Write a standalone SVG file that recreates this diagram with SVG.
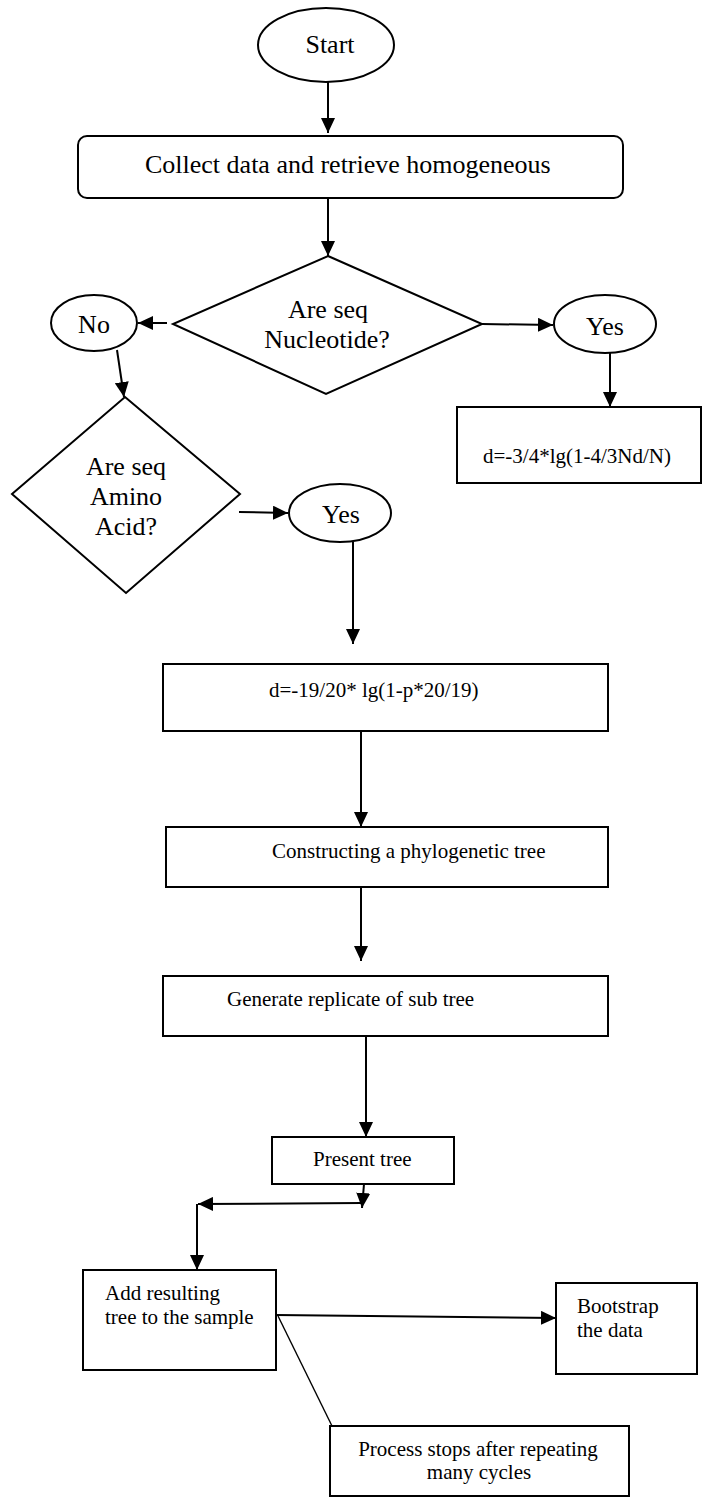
<svg xmlns="http://www.w3.org/2000/svg" width="707" height="1502" viewBox="0 0 707 1502">
  <style>
    .shape { fill: #ffffff; stroke: #000000; stroke-width: 2; }
    .t26 { font-family: "Liberation Serif", "Times New Roman", serif; font-size: 26px; fill: #000000; }
    .t21 { font-family: "Liberation Serif", "Times New Roman", serif; font-size: 21px; fill: #000000; }
    .mid { text-anchor: middle; }
    .conn { stroke: #000000; stroke-width: 2; fill: none; }
    .arrow { marker-end: url(#ah); }
    .thin { stroke-width: 1.4; }
  </style>
  <defs>
    <marker id="ah" markerUnits="userSpaceOnUse" markerWidth="15" markerHeight="14" viewBox="0 0 15 14" refX="15" refY="7" orient="auto">
      <path d="M0,0 L15,7 L0,14 Z" fill="#000000"/>
    </marker>
  </defs>
  <rect x="0" y="0" width="707" height="1502" fill="#ffffff"/>

  <g id="connectors">
    <line class="conn arrow" x1="328" y1="82" x2="328" y2="133"/>
    <line class="conn arrow" x1="328" y1="198" x2="328" y2="256"/>
    <line class="conn arrow" x1="167" y1="323" x2="138" y2="323"/>
    <line class="conn arrow" x1="482" y1="324" x2="553" y2="325"/>
    <line class="conn arrow" x1="610" y1="353" x2="610" y2="407"/>
    <line class="conn arrow" x1="117" y1="350" x2="124" y2="397"/>
    <line class="conn arrow" x1="239" y1="512" x2="288" y2="513"/>
    <line class="conn arrow" x1="353" y1="542" x2="353" y2="644"/>
    <line class="conn arrow" x1="361" y1="731" x2="361" y2="827"/>
    <line class="conn arrow" x1="361" y1="887" x2="361" y2="961"/>
    <line class="conn arrow" x1="366" y1="1036" x2="366" y2="1137"/>
    <line class="conn arrow" x1="364" y1="1184" x2="362" y2="1208"/>
    <line class="conn arrow" x1="362" y1="1203" x2="198" y2="1204"/>
    <line class="conn arrow" x1="197" y1="1204" x2="197" y2="1270"/>
    <line class="conn arrow" x1="276" y1="1315" x2="556" y2="1318"/>
    <line class="conn thin" x1="278" y1="1316" x2="332" y2="1426"/>
  </g>

  <g id="start">
    <ellipse class="shape" cx="326" cy="45" rx="68" ry="37"/>
    <text class="t26 mid" x="330" y="53">Start</text>
  </g>

  <g id="collect">
    <rect class="shape" x="78" y="136" width="545" height="62" rx="9" ry="9"/>
    <text class="t26" x="145" y="173">Collect data and retrieve homogeneous</text>
  </g>

  <g id="decision-nucleotide">
    <polygon class="shape" points="328,256 482,324 326,394 173,324"/>
    <text class="t26 mid" x="328" y="318">Are seq</text>
    <text class="t26 mid" x="327" y="348">Nucleotide?</text>
  </g>

  <g id="no">
    <ellipse class="shape" cx="94" cy="323" rx="43" ry="28"/>
    <text class="t26 mid" x="94" y="333">No</text>
  </g>

  <g id="yes-nucleotide">
    <ellipse class="shape" cx="605" cy="324" rx="51" ry="29"/>
    <text class="t26 mid" x="605" y="335">Yes</text>
  </g>

  <g id="formula-nucleotide">
    <rect class="shape" x="457" y="407" width="244" height="76"/>
    <text class="t21" x="483" y="463">d=-3/4*lg(1-4/3Nd/N)</text>
  </g>

  <g id="decision-amino">
    <polygon class="shape" points="125,397 240,494 126,593 12,494"/>
    <text class="t26 mid" x="126" y="475">Are seq</text>
    <text class="t26 mid" x="126" y="505">Amino</text>
    <text class="t26 mid" x="126" y="535">Acid?</text>
  </g>

  <g id="yes-amino">
    <ellipse class="shape" cx="340" cy="513" rx="51" ry="29"/>
    <text class="t26 mid" x="341" y="523">Yes</text>
  </g>

  <g id="formula-amino">
    <rect class="shape" x="163" y="664" width="445" height="67"/>
    <text class="t21" x="269" y="697">d=-19/20* lg(1-p*20/19)</text>
  </g>

  <g id="construct">
    <rect class="shape" x="166" y="827" width="442" height="60"/>
    <text class="t21" x="272" y="858">Constructing a phylogenetic tree</text>
  </g>

  <g id="generate">
    <rect class="shape" x="163" y="976" width="445" height="60"/>
    <text class="t21" x="227" y="1006">Generate replicate of sub tree</text>
  </g>

  <g id="present">
    <rect class="shape" x="272" y="1137" width="182" height="47"/>
    <text class="t21" x="313" y="1166">Present tree</text>
  </g>

  <g id="add-result">
    <rect class="shape" x="83" y="1270" width="193" height="100"/>
    <text class="t21" x="105" y="1300">Add resulting</text>
    <text class="t21" x="105" y="1324">tree to the sample</text>
  </g>

  <g id="bootstrap">
    <rect class="shape" x="556" y="1283" width="141" height="91"/>
    <text class="t21" x="577" y="1313">Bootstrap</text>
    <text class="t21" x="577" y="1337">the data</text>
  </g>

  <g id="process-stops">
    <rect class="shape" x="330" y="1426" width="299" height="70"/>
    <text class="t21 mid" x="478" y="1456">Process stops after repeating</text>
    <text class="t21 mid" x="479" y="1479">many cycles</text>
  </g>
</svg>
